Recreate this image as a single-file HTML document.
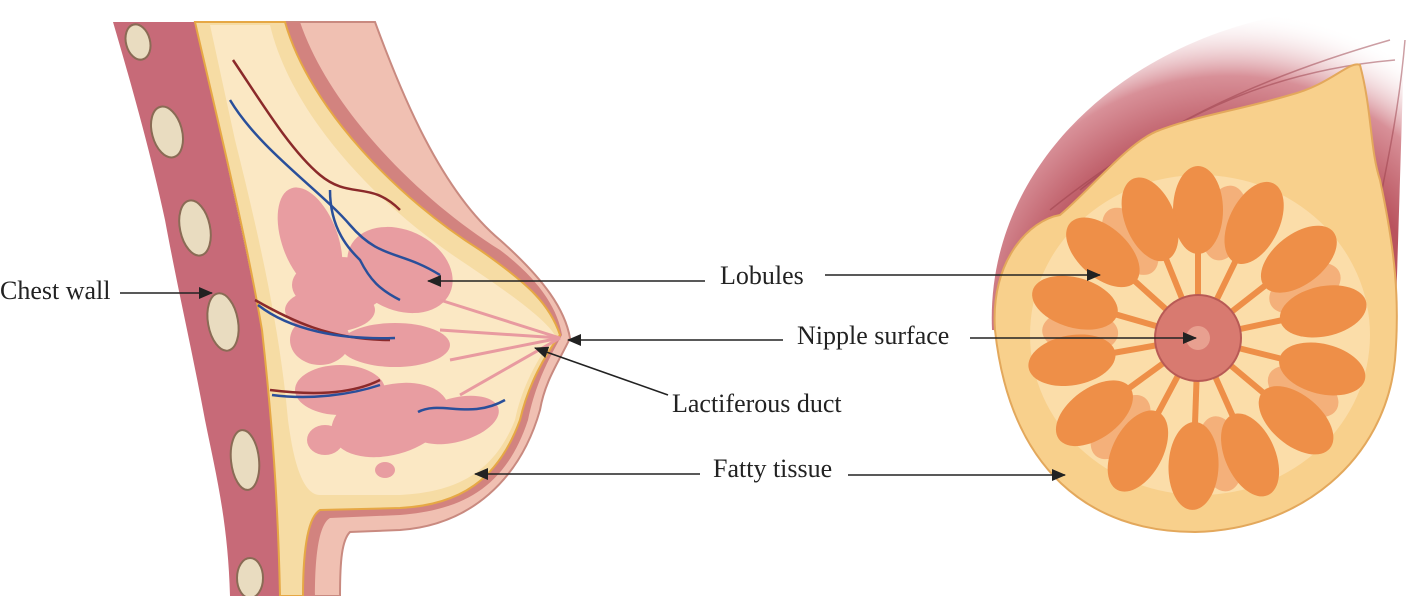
<!DOCTYPE html>
<html><head><meta charset="utf-8"><style>
html,body{margin:0;padding:0;background:#fff;}
svg{display:block;}
text{font-family:"Liberation Serif",serif;font-size:26px;fill:#222;}
</style></head><body>
<svg width="1418" height="596" viewBox="0 0 1418 596" xmlns="http://www.w3.org/2000/svg">
<defs>
<marker id="ah" markerWidth="14" markerHeight="12" refX="13" refY="6" orient="auto" markerUnits="userSpaceOnUse">
<path d="M0,0 L14,6 L0,12 z" fill="#222"/></marker>
<radialGradient id="mus" gradientUnits="userSpaceOnUse" cx="1230" cy="340" r="330">
<stop offset="0.6" stop-color="#b9535e"/><stop offset="0.8" stop-color="#d89098"/><stop offset="1" stop-color="#fff" stop-opacity="0"/></radialGradient>
</defs>
<path d="M280,22 L375,22 C400,90 440,190 500,240 C545,280 565,310 570,338 C560,360 545,380 540,410 C520,480 470,525 400,530 L350,532 C342,540 340,560 340,596 L300,596 Z" fill="#f0c0b2" stroke="#c98a80" stroke-width="2"/>
<path d="M265,22 L300,22 C330,110 420,200 500,250 C540,280 558,310 562,335 C548,360 535,385 528,420 C505,490 460,510 400,515 L330,518 C318,525 315,560 315,596 L275,596 Z" fill="#d2837f"/>
<path d="M113,22 L200,22 C215,120 245,240 262,330 C275,420 280,500 282,596 L230,596 C228,520 215,470 205,420 C190,340 180,300 165,220 C150,150 130,80 113,22 Z" fill="#c76a78"/>
<path d="M200,22 L225,22 C240,120 262,240 275,330 C288,420 292,500 294,596 L282,596 C280,500 275,420 262,330 C245,240 215,120 200,22Z" fill="#b05766"/>
<g fill="#e9dcc0" stroke="#8a6b55" stroke-width="2">
<ellipse cx="138" cy="42" rx="12" ry="18" transform="rotate(-15 138 42)"/>
<ellipse cx="167" cy="132" rx="15" ry="26" transform="rotate(-15 167 132)"/>
<ellipse cx="195" cy="228" rx="15" ry="28" transform="rotate(-12 195 228)"/>
<ellipse cx="223" cy="322" rx="15" ry="29" transform="rotate(-10 223 322)"/>
<ellipse cx="245" cy="460" rx="14" ry="30" transform="rotate(-6 245 460)"/>
<ellipse cx="250" cy="578" rx="13" ry="20"/>
</g>
<path d="M195,22 L285,22 C310,110 400,200 480,250 C530,285 550,305 560,335 C545,355 528,385 520,420 C498,480 460,505 400,508 L320,510 C306,518 303,560 303,596 L280,596 C278,500 272,420 262,330 C245,230 215,110 195,22Z" fill="#f6dca4" stroke="#e6a845" stroke-width="2"/>
<path d="M210,25 L270,25 C290,110 370,200 460,260 C520,300 545,320 555,335 C540,355 522,385 515,420 C495,470 460,492 400,495 L320,495 C300,495 292,450 288,420 C280,330 260,240 235,140 Z" fill="#fbe8c4"/>
<g fill="#e89aa0" opacity="0.95">
<ellipse cx="310" cy="240" rx="28" ry="55" transform="rotate(-20 310 240)"/>
<ellipse cx="400" cy="270" rx="55" ry="40" transform="rotate(25 400 270)"/>
<ellipse cx="340" cy="285" rx="48" ry="28"/>
<ellipse cx="330" cy="310" rx="45" ry="22"/>
<ellipse cx="395" cy="345" rx="55" ry="22"/>
<ellipse cx="320" cy="340" rx="30" ry="25"/>
<ellipse cx="340" cy="390" rx="45" ry="25"/>
<ellipse cx="390" cy="420" rx="60" ry="35" transform="rotate(-15 390 420)"/>
<ellipse cx="455" cy="420" rx="45" ry="22" transform="rotate(-15 455 420)"/>
<ellipse cx="325" cy="440" rx="18" ry="15"/>
<ellipse cx="385" cy="470" rx="10" ry="8"/>
</g>
<g stroke="#e89aa0" stroke-width="3" fill="none">
<path d="M560,338 L440,300"/><path d="M560,338 L440,330"/><path d="M560,338 L450,360"/><path d="M560,338 L460,395"/>
</g>
<g fill="none" stroke-width="2.5">
<path d="M233,60 C260,100 290,150 320,175 C350,200 370,180 400,210" stroke="#8b2a2a"/>
<path d="M230,100 C260,150 320,190 350,225 C380,260 400,250 440,275" stroke="#2a4f9a"/>
<path d="M330,190 C330,230 350,250 360,260 C370,280 380,290 400,300" stroke="#2a4f9a"/>
<path d="M255,300 C290,320 330,340 390,340" stroke="#8b2a2a"/>
<path d="M258,305 C290,330 340,340 395,338" stroke="#2a4f9a"/>
<path d="M270,390 C310,395 350,395 380,380" stroke="#8b2a2a"/>
<path d="M272,395 C310,400 350,395 380,385" stroke="#2a4f9a"/>
<path d="M418,412 C440,400 470,420 505,400" stroke="#2a4f9a"/>
</g>
<!-- RIGHT -->
<path d="M992,330 C985,170 1120,40 1300,12 L1405,18 L1395,340 Z" fill="url(#mus)"/>
<g stroke="#9a3f4a" stroke-width="1.5" fill="none" opacity="0.5">
<path d="M1050,210 C1150,130 1250,80 1390,40"/><path d="M1080,190 C1180,110 1280,70 1395,60"/><path d="M1380,200 C1390,150 1400,100 1405,40"/>
</g>
<path d="M995,330 C990,260 1030,220 1060,215 C1090,190 1130,140 1160,130 C1200,115 1240,110 1290,95 C1330,85 1350,60 1360,65 C1372,110 1370,150 1380,180 C1395,250 1400,300 1395,360 C1385,460 1300,530 1195,532 C1090,532 1010,470 995,330 Z" fill="#f8d08c" stroke="#e3a85c" stroke-width="2"/>
<ellipse cx="1200" cy="335" rx="170" ry="160" fill="#fbe0b0" opacity="0.8"/>
<g fill="#f4b07a" transform="translate(1198,338) rotate(13)">
<g id="lobe2"><ellipse cx="0" cy="-118" rx="22" ry="38"/></g>
<use href="#lobe2" transform="rotate(52)"/><use href="#lobe2" transform="rotate(104)"/><use href="#lobe2" transform="rotate(156)"/>
<use href="#lobe2" transform="rotate(208)"/><use href="#lobe2" transform="rotate(260)"/><use href="#lobe2" transform="rotate(312)"/>
</g>
<g fill="#ee8f48" transform="translate(1198,338)">
<g id="lobe"><path d="M0,0 L0,-90" stroke="#ee8f48" stroke-width="6"/><ellipse cx="0" cy="-128" rx="25" ry="44"/></g>
<use href="#lobe" transform="rotate(26)"/><use href="#lobe" transform="rotate(52)"/><use href="#lobe" transform="rotate(78)"/>
<use href="#lobe" transform="rotate(104)"/><use href="#lobe" transform="rotate(130)"/><use href="#lobe" transform="rotate(156)"/>
<use href="#lobe" transform="rotate(182)"/><use href="#lobe" transform="rotate(208)"/><use href="#lobe" transform="rotate(234)"/>
<use href="#lobe" transform="rotate(260)"/><use href="#lobe" transform="rotate(286)"/><use href="#lobe" transform="rotate(312)"/>
<use href="#lobe" transform="rotate(-22)"/>
</g>
<circle cx="1198" cy="338" r="43" fill="#d87a70" stroke="#b85a55" stroke-width="2"/>
<circle cx="1198" cy="338" r="12" fill="#e8a090"/>
<g stroke="#222" stroke-width="1.6" fill="none">
<line x1="120" y1="293" x2="212" y2="293" marker-end="url(#ah)"/>
<line x1="705" y1="281" x2="428" y2="281" marker-end="url(#ah)"/>
<line x1="825" y1="275" x2="1100" y2="275" marker-end="url(#ah)"/>
<line x1="783" y1="340" x2="568" y2="340" marker-end="url(#ah)"/>
<line x1="970" y1="338" x2="1196" y2="338" marker-end="url(#ah)"/>
<line x1="668" y1="395" x2="535" y2="348" marker-end="url(#ah)"/>
<line x1="700" y1="474" x2="475" y2="474" marker-end="url(#ah)"/>
<line x1="848" y1="475" x2="1065" y2="475" marker-end="url(#ah)"/>
</g>
<text x="0" y="299">Chest wall</text>
<text x="720" y="284">Lobules</text>
<text x="797" y="344">Nipple surface</text>
<text x="672" y="412">Lactiferous duct</text>
<text x="713" y="477">Fatty tissue</text>
</svg>
</body></html>
